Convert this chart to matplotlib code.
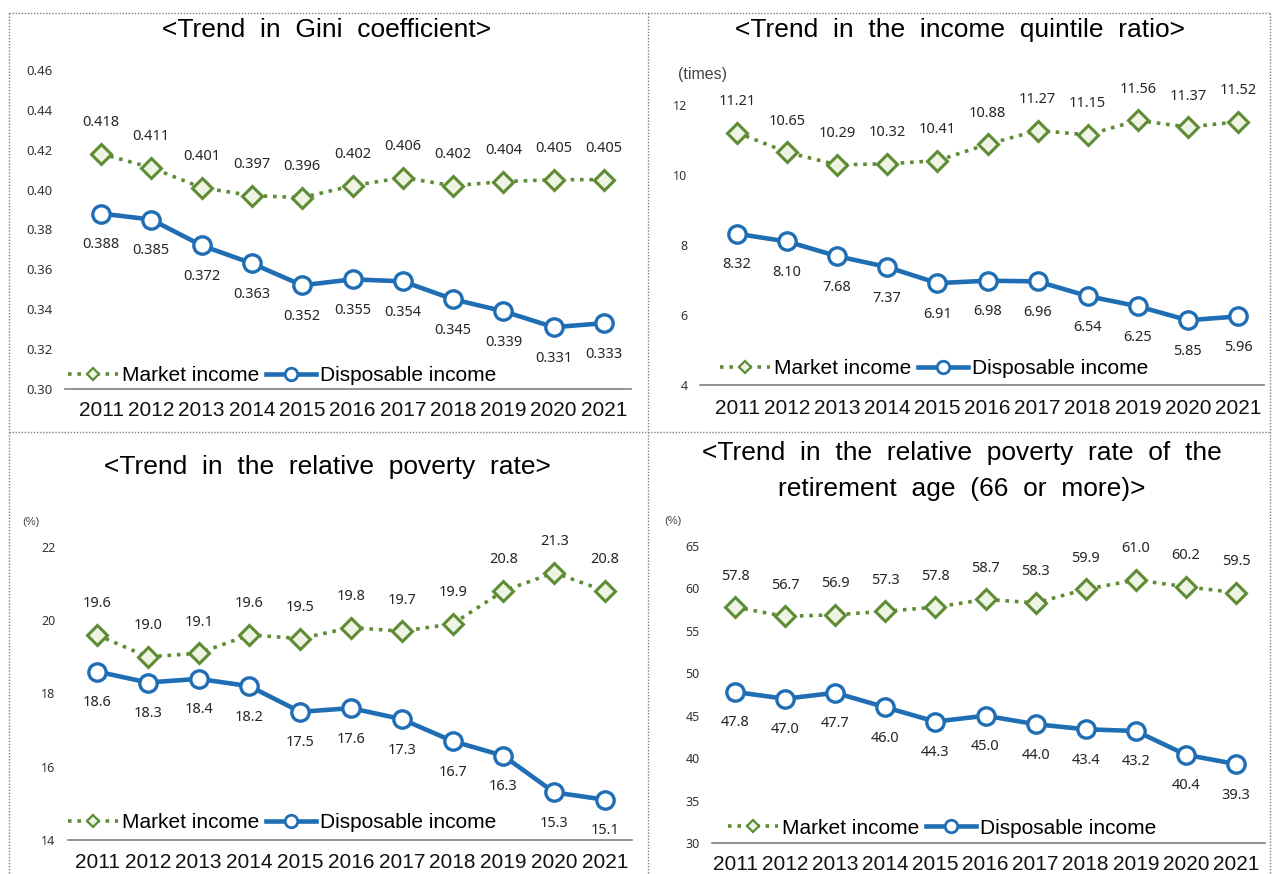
import matplotlib
matplotlib.use('Agg')
import matplotlib.pyplot as plt
from matplotlib.lines import Line2D

years = [str(y) for y in range(2011, 2022)]
gini_market = [0.418, 0.411, 0.401, 0.397, 0.396, 0.402, 0.406, 0.402, 0.404, 0.405, 0.405]
gini_disp = [0.388, 0.385, 0.372, 0.363, 0.352, 0.355, 0.354, 0.345, 0.339, 0.331, 0.333]
quint_market = [11.21, 10.65, 10.29, 10.32, 10.41, 10.88, 11.27, 11.15, 11.56, 11.37, 11.52]
quint_disp = [8.32, 8.10, 7.68, 7.37, 6.91, 6.98, 6.96, 6.54, 6.25, 5.85, 5.96]
pov_market = [19.6, 19.0, 19.1, 19.6, 19.5, 19.8, 19.7, 19.9, 20.8, 21.3, 20.8]
pov_disp = [18.6, 18.3, 18.4, 18.2, 17.5, 17.6, 17.3, 16.7, 16.3, 15.3, 15.1]
old_market = [57.8, 56.7, 56.9, 57.3, 57.8, 58.7, 58.3, 59.9, 61.0, 60.2, 59.5]
old_disp = [47.8, 47.0, 47.7, 46.0, 44.3, 45.0, 44.0, 43.4, 43.2, 40.4, 39.3]

gini_ticks = [0.30, 0.32, 0.34, 0.36, 0.38, 0.40, 0.42, 0.44, 0.46]
quint_ticks = [4, 6, 8, 10, 12]
pov_ticks = [14, 16, 18, 20, 22]
old_ticks = [30, 35, 40, 45, 50, 55, 60, 65]

W, H = 1275, 874
fig = plt.figure(figsize=(W / 100, H / 100), dpi=100)
fig.patch.set_facecolor('white')

GREEN = '#5E8C35'
GREEN_FACE = '#EEF4E4'
BLUE = '#1F6EB4'
TITLE_FONT = 'Liberation Sans'
NUM_FONT = 'Noto Sans'


def px_axes(left, top, right, bottom):
    return fig.add_axes([left / W, 1 - bottom / H, (right - left) / W, (bottom - top) / H])


def panel(box, x0, x1, ticks, market, disp, fmt, tick_fs, label_fs, legend_xy, ypad):
    left, top, right, bottom = box
    ax = px_axes(left, top, right, bottom)
    s = (x1 - x0) / 10.0
    ax.set_xlim((left - x0) / s, (right - x0) / s)
    ax.set_ylim(ticks[0], ticks[-1])
    xs = list(range(len(years)))
    ax.plot(xs, market, color=GREEN, linestyle=(0, (1, 1.6)), linewidth=2.6,
            marker='D', markersize=10.5, markerfacecolor=GREEN_FACE,
            markeredgecolor=GREEN, markeredgewidth=2.2, zorder=3)
    ax.plot(xs, disp, color=BLUE, linewidth=3.3, marker='o', markersize=12.5,
            markerfacecolor='white', markeredgecolor=BLUE, markeredgewidth=2.4,
            zorder=3)
    for x, v in zip(xs, market):
        ax.annotate(fmt.format(v), (x, v), xytext=(0, 31), textcoords='offset pixels',
                    ha='center', va='center', fontsize=label_fs, family=NUM_FONT,
                    color='#262626')
    for x, v in zip(xs, disp):
        ax.annotate(fmt.format(v), (x, v), xytext=(0, -31), textcoords='offset pixels',
                    ha='center', va='center', fontsize=label_fs, family=NUM_FONT,
                    color='#262626')
    ax.set_xticks(xs)
    ax.set_xticklabels(years, fontsize=15, family=TITLE_FONT, color='#111111')
    ax.set_yticks(ticks)
    ax.set_yticklabels([('{:.2f}'.format(t) if isinstance(t, float) else str(t)) for t in ticks],
                       fontsize=tick_fs, family=NUM_FONT, color='#333333')
    ax.tick_params(axis='both', length=0)
    ax.tick_params(axis='x', pad=ypad)
    ax.tick_params(axis='y', pad=9)
    for sp in ['top', 'right', 'left']:
        ax.spines[sp].set_visible(False)
    ax.spines['bottom'].set_color('#808080')
    ax.spines['bottom'].set_linewidth(1.2)
    ax.patch.set_alpha(0)

    h1 = Line2D([], [], color=GREEN, linestyle=(0, (1, 1.6)), linewidth=2.6, marker='D',
                markersize=6, markerfacecolor=GREEN_FACE, markeredgecolor=GREEN,
                markeredgewidth=1.6)
    h2 = Line2D([], [], color=BLUE, linewidth=3.3, marker='o', markersize=9,
                markerfacecolor='white', markeredgecolor=BLUE, markeredgewidth=2.0)
    fig.legend([h1, h2], ['Market income', 'Disposable income'], loc='center',
               bbox_to_anchor=(legend_xy[0] / W, 1 - legend_xy[1] / H),
               bbox_transform=fig.transFigure, ncol=2, frameon=False,
               prop={'family': TITLE_FONT, 'size': 15}, handlelength=2.4,
               handletextpad=0.2, columnspacing=0.3, borderpad=0)
    return ax


panel((65, 70, 631, 389), 101, 604, gini_ticks, gini_market, gini_disp, '{:.3f}',
      9.5, 10.5, (282, 376), 9)
panel((700, 105, 1264, 385), 737, 1238, quint_ticks, quint_market, quint_disp, '{:.2f}',
      9, 10.5, (934, 369), 10)
panel((68, 547, 632, 840), 97, 605, pov_ticks, pov_market, pov_disp, '{:.1f}',
      9, 10.5, (282, 823), 9)
panel((712, 546, 1265, 843), 735, 1236, old_ticks, old_market, old_disp, '{:.1f}',
      9, 10.5, (942, 828), 9)


def ftext(x, y, s, **kw):
    fig.text(x / W, 1 - y / H, s, ha='center', va='center', **kw)


tkw = dict(fontsize=19, family=TITLE_FONT, color='black')
ftext(327, 30, '<Trend  in  Gini  coefficient>', **tkw)
ftext(960, 30, '<Trend  in  the  income  quintile  ratio>', **tkw)
ftext(327, 467, '<Trend  in  the  relative  poverty  rate>', **tkw)
ftext(962, 453, '<Trend  in  the  relative  poverty  rate  of  the', **tkw)
ftext(962, 489, 'retirement  age  (66  or  more)>', **tkw)

ukw = dict(family=TITLE_FONT, color='#444444')
fig.text(678 / W, 1 - 75 / H, '(times)', fontsize=11.5, ha='left', va='center', **ukw)
fig.text(22 / W, 1 - 522 / H, '(%)', fontsize=8, ha='left', va='center', **ukw)
fig.text(664 / W, 1 - 521 / H, '(%)', fontsize=8, ha='left', va='center', **ukw)

lkw = dict(color='#7F7F7F', linewidth=1.0, linestyle=(0, (1, 1.2)), transform=fig.transFigure)


def fline(xa, ya, xb, yb):
    fig.add_artist(Line2D([xa / W, xb / W], [1 - ya / H, 1 - yb / H], **lkw))


fline(9, 13, 1270, 13)
fline(9, 13, 9, 874)
fline(1270, 13, 1270, 874)
fline(648, 13, 648, 874)
fline(9, 432, 1270, 432)

fig.savefig('out.png', dpi=100, facecolor='white')
